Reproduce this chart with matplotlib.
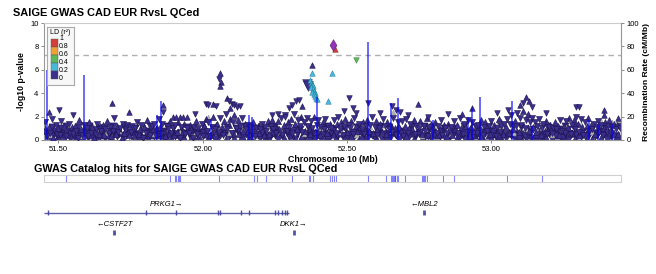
import numpy as np
import matplotlib
matplotlib.use("Agg")
import matplotlib.pyplot as plt
from matplotlib.patches import Rectangle

plt.rcParams['font.family'] = ['Liberation Sans', 'DejaVu Sans']

# ---------------- data ----------------
title = "SAIGE GWAS CAD EUR RvsL QCed"
x_ticks = [51.5, 52.0, 52.5, 53.0]

# bulk of SNPs (r2 < 0.2)
band_x = [
    51.451, 51.455, 51.462, 51.466, 51.471, 51.477, 51.480, 51.486, 51.491, 51.494, 51.499, 51.505, 51.509, 51.516, 51.521, 51.526, 51.530, 51.536, 51.541, 51.547,
    51.552, 51.557, 51.561, 51.568, 51.573, 51.577, 51.583, 51.588, 51.592, 51.598, 51.603, 51.607, 51.613, 51.618, 51.624, 51.629, 51.633, 51.639, 51.644, 51.648,
    51.653, 51.658, 51.662, 51.669, 51.674, 51.679, 51.683, 51.689, 51.693, 51.699, 51.704, 51.708, 51.714, 51.719, 51.723, 51.729, 51.734, 51.738, 51.743, 51.748,
    51.752, 51.756, 51.763, 51.767, 51.772, 51.778, 51.782, 51.787, 51.793, 51.797, 51.802, 51.808, 51.812, 51.817, 51.823, 51.827, 51.833, 51.838, 51.842, 51.847,
    51.851, 51.856, 51.860, 51.866, 51.871, 51.876, 51.881, 51.886, 51.890, 51.896, 51.901, 51.905, 51.911, 51.916, 51.921, 51.925, 51.931, 51.936, 51.940, 51.946,
    51.951, 51.955, 51.961, 51.966, 51.970, 51.976, 51.981, 51.985, 51.991, 51.996, 52.001, 52.005, 52.011, 52.016, 52.020, 52.026, 52.031, 52.035, 52.041, 52.046,
    52.051, 52.055, 52.060, 52.066, 52.071, 52.075, 52.081, 52.086, 52.090, 52.095, 52.101, 52.106, 52.110, 52.116, 52.121, 52.125, 52.131, 52.136, 52.140, 52.146,
    52.151, 52.156, 52.160, 52.165, 52.171, 52.176, 52.180, 52.186, 52.191, 52.195, 52.200, 52.206, 52.211, 52.215, 52.221, 52.226, 52.230, 52.236, 52.241, 52.245,
    52.251, 52.255, 52.261, 52.266, 52.270, 52.276, 52.281, 52.285, 52.291, 52.296, 52.300, 52.306, 52.311, 52.315, 52.321, 52.326, 52.330, 52.336, 52.341, 52.346,
    52.351, 52.356, 52.361, 52.365, 52.371, 52.376, 52.380, 52.386, 52.391, 52.395, 52.401, 52.405, 52.410, 52.416, 52.421, 52.425, 52.431, 52.436, 52.440, 52.446,
    52.452, 52.456, 52.461, 52.466, 52.470, 52.475, 52.481, 52.486, 52.490, 52.495, 52.501, 52.506, 52.510, 52.515, 52.520, 52.526, 52.531, 52.535, 52.541, 52.546,
    52.551, 52.556, 52.560, 52.566, 52.571, 52.575, 52.581, 52.586, 52.590, 52.596, 52.601, 52.605, 52.610, 52.616, 52.620, 52.625, 52.631, 52.636, 52.640, 52.645,
    52.651, 52.656, 52.660, 52.665, 52.671, 52.676, 52.680, 52.686, 52.691, 52.695, 52.701, 52.705, 52.710, 52.716, 52.720, 52.725, 52.731, 52.735, 52.741, 52.746,
    52.751, 52.755, 52.761, 52.766, 52.770, 52.776, 52.781, 52.785, 52.791, 52.796, 52.800, 52.806, 52.811, 52.815, 52.821, 52.826, 52.830, 52.836, 52.841, 52.846,
    52.851, 52.856, 52.860, 52.865, 52.871, 52.876, 52.880, 52.886, 52.891, 52.895, 52.901, 52.906, 52.910, 52.916, 52.920, 52.925, 52.931, 52.935, 52.941, 52.946,
    52.951, 52.956, 52.960, 52.966, 52.971, 52.975, 52.980, 52.986, 52.991, 52.995, 53.001, 53.006, 53.010, 53.015, 53.021, 53.026, 53.030, 53.035, 53.041, 53.046,
    53.051, 53.055, 53.061, 53.066, 53.070, 53.076, 53.081, 53.085, 53.090, 53.096, 53.101, 53.105, 53.111, 53.116, 53.120, 53.126, 53.130, 53.135, 53.141, 53.146,
    53.151, 53.156, 53.160, 53.165, 53.171, 53.176, 53.180, 53.186, 53.191, 53.195, 53.201, 53.205, 53.210, 53.216, 53.220, 53.225, 53.231, 53.235, 53.240, 53.246,
    53.251, 53.255, 53.260, 53.266, 53.271, 53.275, 53.280, 53.286, 53.290, 53.295, 53.301, 53.305, 53.310, 53.316, 53.320, 53.325, 53.331, 53.335, 53.340, 53.346,
    53.351, 53.355, 53.360, 53.366, 53.371, 53.375, 53.380, 53.386, 53.391, 53.395, 53.401, 53.405, 53.410, 53.416, 53.420, 53.425, 53.431, 53.435, 53.440, 53.446,
]
band_y = [
    0.8, 1.5, 0.3, 1.1, 0.6, 1.8, 0.2, 0.9, 1.3, 0.5, 1.0, 0.4, 1.6, 0.7, 1.2, 0.3, 0.9, 1.4, 0.6, 1.1,
    0.5, 1.2, 0.8, 0.2, 1.7, 0.9, 0.4, 1.3, 0.7, 1.0, 0.3, 1.5, 0.6, 1.1, 0.2, 0.9, 1.4, 0.5, 1.2, 0.8,
    1.3, 0.4, 0.9, 1.6, 0.6, 1.1, 0.3, 0.8, 1.9, 0.5, 1.2, 0.7, 1.0, 0.2, 1.4, 0.6, 0.9, 1.3, 0.4, 1.1,
    0.7, 1.2, 0.3, 1.0, 1.5, 0.5, 0.9, 1.3, 0.2, 1.1, 0.6, 1.7, 0.8, 0.4, 1.2, 0.9, 1.4, 0.3, 1.0, 1.8,
    1.1, 0.5, 1.4, 0.8, 0.3, 1.2, 0.9, 1.6, 0.6, 1.0, 0.4, 1.3, 0.7, 1.5, 0.2, 1.1, 0.8, 1.4, 0.5, 1.0,
    0.6, 1.3, 0.9, 0.2, 1.1, 1.6, 0.5, 1.0, 0.7, 1.4, 0.3, 1.2, 1.8, 0.8, 1.5, 0.4, 1.1, 2.0, 0.9, 1.3,
    1.4, 0.7, 1.9, 1.1, 0.4, 1.6, 2.2, 0.9, 1.3, 1.8, 0.6, 1.5, 2.1, 1.0, 1.7, 0.5, 1.2, 1.9, 0.8, 1.4,
    0.9, 1.3, 0.5, 1.1, 0.7, 1.5, 0.3, 1.0, 1.2, 0.6, 0.9, 1.4, 0.4, 1.1, 0.8, 1.6, 0.5, 1.2, 1.7, 0.9,
    1.2, 0.6, 1.6, 0.9, 1.9, 0.4, 1.3, 2.1, 0.8, 1.5, 1.1, 1.8, 0.5, 2.2, 1.4, 0.9, 1.7, 1.2, 2.0, 0.7,
    1.5, 0.8, 1.9, 1.2, 0.5, 1.6, 1.0, 2.0, 0.7, 1.3, 1.7, 0.4, 1.1, 1.5, 0.9, 1.8, 0.6, 1.2, 1.4, 1.0,
    1.1, 1.7, 0.6, 1.4, 2.0, 0.9, 1.5, 0.4, 1.2, 1.8, 0.7, 1.3, 1.0, 1.6, 0.5, 1.9, 1.2, 0.8, 1.4, 1.1,
    0.9, 1.5, 0.5, 1.2, 1.7, 0.8, 1.3, 2.0, 0.6, 1.1, 1.6, 0.4, 1.0, 1.4, 0.7, 1.8, 1.2, 0.5, 1.5, 0.9,
    1.3, 0.7, 1.9, 1.0, 0.4, 1.5, 1.1, 0.8, 1.6, 0.3, 1.2, 1.8, 0.6, 1.0, 1.4, 0.9, 1.7, 0.5, 1.2, 0.8,
    1.0, 1.6, 0.5, 1.2, 0.8, 1.9, 0.3, 1.1, 1.4, 0.7, 1.0, 1.5, 0.6, 1.2, 0.9, 1.7, 0.4, 1.3, 1.0, 0.6,
    1.4, 0.8, 1.1, 0.4, 1.6, 0.9, 1.3, 0.6, 1.9, 1.0, 0.5, 1.4, 1.2, 0.7, 1.7, 0.3, 1.1, 1.5, 0.8, 1.2,
    0.6, 1.3, 1.0, 1.7, 0.4, 1.1, 1.5, 0.8, 1.2, 0.5, 1.6, 0.9, 1.3, 0.3, 1.0, 1.8, 0.7, 1.2, 0.5, 1.4,
    1.1, 1.8, 0.6, 1.4, 2.1, 0.9, 1.6, 1.2, 2.3, 0.7, 1.9, 1.3, 2.5, 1.0, 1.7, 2.2, 0.8, 1.5, 1.9, 1.1,
    1.5, 0.7, 1.2, 1.8, 0.4, 1.0, 1.4, 0.8, 1.6, 0.5, 1.1, 1.3, 0.6, 1.0, 1.5, 0.9, 1.2, 0.4, 1.7, 0.8,
    1.2, 0.6, 1.6, 1.0, 1.9, 0.5, 1.3, 1.7, 0.9, 2.0, 1.4, 0.7, 1.8, 1.1, 0.4, 1.5, 1.2, 1.9, 0.8, 1.3,
    0.9, 1.4, 0.5, 1.1, 1.6, 0.8, 1.3, 0.4, 1.0, 1.5, 0.7, 1.2, 1.7, 0.6, 1.1, 1.4, 0.9, 1.3, 0.5, 1.0,
]
band_dir = (
    "uddudduuddudduududdu" "dudduuddudduduudduud" "uududdudduuddududdud" "ddudduudduduudduddud"
    "udduuddudduduudduudd" "duudduddudduuddududu" "uddududduudduduudduu" "dduddudduuddudduudud"
    "uduudduddududduuddud" "duddudduuddududdudud" "udduddudduuddudduudu" "dudduuddududduudduud"
    "uddudduuddudduduuddu" "duuddudduduudduddudd" "udduduudduddudduudud" "dduuddudduduudduddud"
    "ududduudduddudduuddu" "duddudduuddudduduudd" "udduuddudduddudduudu" "dduddudduuddudduduud"
)
# low -log10 p SNPs at every second bulk position
band_low_y = [
    0.2, 0.5, 0.1, 0.4, 0.7, 0.3, 0.6, 0.1, 0.5, 0.2, 0.4, 0.1, 0.6, 0.3, 0.5, 0.2, 0.7, 0.4, 0.1, 0.3,
    0.6, 0.2, 0.4, 0.1, 0.5, 0.3, 0.7, 0.2, 0.4, 0.6, 0.1, 0.5, 0.3, 0.6, 0.2, 0.4, 0.1, 0.7, 0.3, 0.5,
    0.3, 0.6, 0.1, 0.4, 0.2, 0.7, 0.5, 0.1, 0.3, 0.6, 0.5, 0.2, 0.7, 0.3, 0.1, 0.4, 0.6, 0.2, 0.5, 0.1,
    0.2, 0.4, 0.6, 0.1, 0.3, 0.5, 0.2, 0.7, 0.4, 0.1, 0.6, 0.3, 0.1, 0.5, 0.4, 0.2, 0.6, 0.3, 0.1, 0.7,
    0.4, 0.1, 0.5, 0.2, 0.6, 0.3, 0.4, 0.1, 0.7, 0.2, 0.1, 0.6, 0.3, 0.4, 0.2, 0.5, 0.1, 0.6, 0.3, 0.4,
    0.5, 0.2, 0.4, 0.7, 0.1, 0.3, 0.6, 0.2, 0.5, 0.1, 0.3, 0.5, 0.1, 0.6, 0.4, 0.2, 0.7, 0.1, 0.3, 0.5,
    0.2, 0.7, 0.4, 0.1, 0.5, 0.3, 0.2, 0.6, 0.1, 0.4, 0.6, 0.1, 0.3, 0.5, 0.2, 0.7, 0.4, 0.3, 0.6, 0.2,
    0.1, 0.4, 0.6, 0.2, 0.3, 0.5, 0.1, 0.7, 0.2, 0.4, 0.5, 0.3, 0.1, 0.6, 0.4, 0.2, 0.5, 0.1, 0.3, 0.6,
    0.2, 0.6, 0.4, 0.1, 0.7, 0.3, 0.5, 0.2, 0.4, 0.1, 0.4, 0.1, 0.5, 0.3, 0.2, 0.6, 0.1, 0.4, 0.7, 0.3,
    0.3, 0.5, 0.2, 0.6, 0.1, 0.4, 0.3, 0.7, 0.2, 0.5, 0.1, 0.3, 0.6, 0.2, 0.5, 0.1, 0.4, 0.6, 0.3, 0.2,
]
band_low_dir = (
    "duudduddududduudduud" "uddudduuddudduduuddu" "dudduuddudduduudduud" "udduddudduuddudduudu"
    "dduuddudduduudduddud" "uududdudduuddududdud" "duddudduuddududdudud" "uddududduudduduudduu"
    "dudduuddududduudduud" "udduuddudduddudduudu"
)
# mid-range SNPs at the other bulk positions
band_mid_y = [
    0.9, 0.5, 1.1, 0.7, 0.3, 1.0, 0.6, 1.2, 0.8, 0.4, 0.6, 1.1, 0.3, 0.9, 0.7, 1.2, 0.5, 0.8, 1.0, 0.4,
    1.0, 0.4, 0.8, 1.2, 0.6, 0.9, 0.3, 1.1, 0.7, 0.5, 0.7, 1.0, 0.5, 0.3, 1.1, 0.8, 1.2, 0.4, 0.9, 0.6,
    0.4, 0.8, 1.2, 0.6, 1.0, 0.3, 0.7, 0.9, 0.5, 1.1, 1.1, 0.6, 0.4, 0.9, 0.7, 1.2, 0.5, 0.3, 1.0, 0.8,
    0.5, 0.9, 0.7, 1.1, 0.4, 0.6, 1.0, 0.8, 0.3, 1.2, 0.8, 0.3, 1.0, 0.5, 1.2, 0.7, 0.9, 0.4, 1.1, 0.6,
    1.2, 0.7, 0.5, 1.0, 0.8, 0.4, 1.1, 0.6, 0.9, 0.3, 0.3, 1.1, 0.9, 0.6, 0.5, 1.0, 0.8, 1.2, 0.4, 0.7,
    0.9, 0.4, 0.6, 1.2, 1.0, 0.5, 0.3, 0.7, 1.1, 0.8, 0.6, 1.0, 0.8, 0.4, 0.3, 0.9, 1.2, 0.5, 0.7, 1.1,
    1.0, 0.5, 1.1, 0.8, 0.6, 0.3, 0.9, 1.2, 0.4, 0.7, 0.7, 1.2, 0.4, 0.9, 1.1, 0.6, 0.5, 0.8, 1.0, 0.3,
    0.4, 0.8, 1.0, 0.3, 0.7, 1.2, 0.6, 0.9, 0.5, 1.1, 1.1, 0.3, 0.7, 1.0, 0.9, 0.5, 0.8, 0.4, 1.2, 0.6,
    0.8, 0.6, 1.2, 0.5, 0.4, 1.1, 0.3, 1.0, 0.7, 0.9, 0.5, 1.1, 0.3, 0.7, 1.2, 0.8, 1.0, 0.6, 0.9, 0.4,
    1.2, 0.9, 0.6, 1.1, 0.5, 0.4, 0.7, 0.3, 0.8, 1.0, 0.6, 0.4, 0.9, 0.8, 1.0, 0.7, 1.1, 0.5, 0.3, 1.2,
]
band_mid_dir = (
    "udduddudduuddudduudu" "dudduuddududduudduud" "uddudduuddudduduuddu" "duuddudduduudduddudd"
    "udduduudduddudduudud" "dduuddudduduudduddud" "ududduudduddudduuddu" "duddudduuddudduduudd"
    "udduuddudduddudduudu" "dduddudduuddudduduud"
)

# SNPs without LD information
grey_x = [51.47, 51.53, 51.58, 51.62, 51.66, 51.71, 51.75, 51.79, 51.83, 51.88, 51.92, 51.97, 52.02,
          52.04, 52.09, 52.14, 52.18, 52.22, 52.27, 52.33, 52.35, 52.41, 52.48, 52.53, 52.58, 52.62,
          52.66, 52.71, 52.76, 52.81, 52.86, 52.91, 52.96, 53.00, 53.02, 53.025, 53.03, 53.035, 53.04,
          53.045, 53.05, 53.08, 53.12, 53.17, 53.21, 53.26, 53.31, 53.35, 53.38, 53.42, 53.44]
grey_y = [0.4, 0.9, 0.3, 1.2, 0.6, 0.8, 0.2, 1.0, 0.5, 1.3, 0.7, 0.4, 2.0, 1.1, 0.6, 0.9, 0.3, 1.2,
          0.8, 2.0, 0.5, 1.0, 0.7, 0.4, 1.1, 0.6, 2.4, 0.9, 0.3, 1.2, 0.5, 0.8, 1.0, 1.5, 1.3, 1.7,
          1.1, 1.6, 1.4, 1.2, 1.0, 0.6, 0.9, 1.3, 0.4, 1.1, 1.4, 0.7, 1.6, 1.5, 1.7]

# r2 < 0.2 SNPs standing above the bulk
top_x = [51.469, 51.503, 51.552, 51.684, 51.743, 51.861, 51.863, 51.896, 51.908, 51.920, 51.932, 51.944,
         51.975, 52.010, 52.020, 52.035, 52.045, 52.060, 52.058, 52.062, 52.060, 52.083, 52.090, 52.100,
         52.110, 52.120, 52.130, 52.095, 52.240, 52.260, 52.285, 52.300, 52.310, 52.325, 52.335, 52.345,
         52.378, 52.507, 52.573, 52.490, 52.520, 52.530, 52.615, 52.655, 52.670, 52.685, 52.710, 52.747,
         52.780, 52.850, 52.900, 52.934, 53.020, 53.060, 53.100, 53.110, 53.120, 53.130, 53.140, 53.190,
         53.295, 53.305, 53.390, 53.392, 53.440]
top_y = [2.4, 2.6, 2.15, 3.2, 2.4, 3.0, 2.4, 2.0, 2.0, 2.0, 2.0, 2.0,
         2.2, 3.1, 3.0, 3.1, 2.9, 5.7, 5.2, 5.0, 4.6, 3.6, 3.3, 3.1,
         3.0, 2.8, 2.9, 2.7, 2.1, 2.2, 2.0, 2.7, 3.0, 3.3, 3.4, 2.9,
         6.4, 3.6, 3.2, 2.5, 2.7, 2.3, 2.3, 2.9, 2.6, 2.4, 2.1, 3.1,
         2.0, 2.2, 2.2, 2.7, 2.3, 2.55, 3.0, 3.2, 3.7, 3.3, 2.8, 2.3,
         2.8, 2.8, 2.55, 2.1, 1.9]
top_dir = ("udduuuduuuuu" "dddududuuudd" "dddudddddddu"
           "uddddddddddu" "dduudduduudd" "dduuu")
big_x = [52.360, 52.366]
big_y = [4.8, 4.6]

# LD 0.2-0.4
cyan_x = [52.378, 52.372, 52.375, 52.378, 52.380, 52.383, 52.376, 52.382, 52.385, 52.380, 52.388,
          52.386, 52.390, 52.392, 52.448, 52.434, 52.396]
cyan_y = [5.7, 5.1, 4.9, 4.8, 4.7, 4.6, 4.5, 4.4, 4.2, 4.1, 4.0, 3.9, 3.8, 3.6, 5.7, 3.3, 3.5]
red_x, red_y = [52.460], [7.8]        # LD 0.8-1
green_x, green_y = [52.530], [6.8]    # LD 0.4-0.6
lead_x, lead_y = [52.451], [8.1]      # index SNP

recomb_pos = [51.462, 51.590, 51.840, 51.854, 52.030, 52.160, 52.170, 52.398, 52.573, 52.652,
              52.678, 52.800, 52.918, 52.935, 52.962, 53.072, 53.140, 53.340, 53.370, 53.420]
recomb_rate = [60, 55.5, 21, 33, 17, 21, 20, 37, 84, 32, 36, 17, 20, 27, 37, 33, 12, 17, 14, 14]

ld_labels = ["1", "0.8", "0.6", "0.4", "0.2", "0"]
ld_colors = ["#D43F3A", "#EEA236", "#5CB85C", "#46B8DA", "#3B2E8C"]

catalog_title = "GWAS Catalog hits for SAIGE GWAS CAD EUR RvsL QCed"
catalog_pos = [51.527, 51.888, 51.905, 51.909, 51.913, 51.917, 51.922, 52.057, 52.177, 52.190,
               52.219, 52.308, 52.368, 52.372, 52.381, 52.441, 52.447, 52.456, 52.462, 52.574,
               52.635, 52.653, 52.656, 52.659, 52.662, 52.665, 52.668, 52.672, 52.678, 52.701,
               52.759, 52.763, 52.767, 52.772, 52.777, 52.834, 52.872, 53.054, 53.177]

gene_names = ["PRKG1", "CSTF2T", "DKK1", "MBL2"]
gene_start = [51.450, 51.692, 52.315, 52.766]
gene_end = [52.298, 51.695, 52.318, 52.769]
gene_strand = ["+", "-", "+", "-"]
gene_row = [0, 1, 1, 0]
gene_exons = [
    [51.465, 51.802, 51.906, 52.052, 52.059, 52.132, 52.160, 52.250, 52.262, 52.275, 52.285, 52.292],
    [51.6935], [52.3165], [52.7675],
]

NAVY = ld_colors[-1]
EDGE = "#1a1450"
GREY = "#B5B5B5"
XMIN, XMAX = 51.45, 53.45

W, H = 656, 274
fig = plt.figure(figsize=(W / 100, H / 100), dpi=100)


def fx(px):
    return px / W


def fy(py):
    return 1 - py / H


def draw(ax, xs, ys, dirs, color, size, z, edge=EDGE, lw=0.4):
    xs = np.asarray(xs)
    ys = np.asarray(ys)
    d = np.array(list(dirs))
    for key, m in (("u", "^"), ("d", "v")):
        k = d == key
        ax.scatter(xs[k], ys[k], marker=m, s=size, c=color, edgecolors=edge,
                   linewidths=lw, zorder=z)


# ---------------- association panel ----------------
ax = fig.add_axes([fx(44), fy(140), fx(577), 117 / H])
ax.set_xlim(XMIN, XMAX)
ax.set_ylim(0, 10)
ax.set_yticks([0, 2, 4, 6, 8, 10])
ax.set_xticks(x_ticks)
ax.set_xticklabels([f"{t:.2f}" for t in x_ticks])
ax.tick_params(labelsize=5.5, length=2.5, width=0.6, color="#777777", pad=1.5)
for s in ax.spines.values():
    s.set_color("#CCCCCC")
    s.set_linewidth(0.8)
ax.spines["left"].set_color("#999999")
ax.spines["bottom"].set_color("#999999")

ax2 = ax.twinx()
ax2.set_ylim(0, 100)
ax2.set_yticks([0, 20, 40, 60, 80, 100])
ax2.tick_params(labelsize=5.5, length=2.5, width=0.6, color="#777777", pad=1.5)
for s in ax2.spines.values():
    s.set_visible(False)
ax2.spines["right"].set_visible(True)
ax2.spines["right"].set_color("#999999")
ax2.spines["right"].set_linewidth(0.8)
ax2.set_zorder(ax.get_zorder() + 1)
ax2.patch.set_visible(False)

ax.axhline(7.3, color="#B0B0B0", lw=1, dashes=(4, 3), zorder=1)

draw(ax, band_x[::2], band_low_y, band_low_dir, NAVY, 28, 2)
draw(ax, band_x[1::2], band_mid_y, band_mid_dir, NAVY, 26, 2)
ax.scatter(grey_x, grey_y, marker="^", s=12, c=GREY, edgecolors="#8a8a8a", linewidths=0.3, zorder=3)
draw(ax, band_x, band_y, band_dir, NAVY, 19, 4)
draw(ax, top_x, top_y, top_dir, NAVY, 16, 6)
ax.scatter(big_x, big_y, marker="v", s=50, c=NAVY, edgecolors=EDGE, linewidths=0.3, zorder=6)
ax.scatter(cyan_x, cyan_y, marker="^", s=16, c=ld_colors[3], edgecolors="#1f6f8a", linewidths=0.3, zorder=7)
ax.scatter(red_x, red_y, marker="^", s=16, c=ld_colors[0], edgecolors="#7a1e1a", linewidths=0.3, zorder=7)
ax.scatter(green_x, green_y, marker="v", s=16, c=ld_colors[2], edgecolors="#2e6e2e", linewidths=0.3, zorder=7)
ax.scatter(lead_x, lead_y, marker="d", s=36, c="#9632B8", edgecolors="#4a1860", linewidths=0.3, zorder=8)

ax2.vlines(recomb_pos, 0, recomb_rate, color="#0000FF", lw=1.1, alpha=0.75, zorder=5)

ax.set_ylabel("-log10 p-value", fontsize=6.2, fontweight="bold", labelpad=3)
ax2.set_ylabel("Recombination Rate (cM/Mb)", fontsize=6.1, fontweight="bold", labelpad=3)
ax.set_xlabel("Chromosome 10 (Mb)", fontsize=6.3, fontweight="bold", labelpad=2)
fig.text(fx(13), fy(13), title, ha="left", va="center", fontsize=7.9, fontweight="bold")

# LD legend
lg = fig.add_axes([fx(47), fy(85), fx(27), 58 / H])
lg.set_zorder(ax2.get_zorder() + 1)
lg.set_xlim(0, 27)
lg.set_ylim(58, 0)
lg.set_xticks([])
lg.set_yticks([])
lg.patch.set_facecolor("#F7F7F7")
for s in lg.spines.values():
    s.set_color("#AAAAAA")
    s.set_linewidth(0.8)
lg.text(3, 5, "LD (r²)", fontsize=5, va="center", ha="left")
for i, c in enumerate(ld_colors):
    lg.add_patch(Rectangle((4.5, 12 + 8 * i), 6.5, 8, facecolor=c, edgecolor="#555555", lw=0.3))
for i, lab in enumerate(ld_labels):
    lg.text(12, 12 + 8 * i, lab, fontsize=5, va="center", ha="left")

# ---------------- GWAS catalog track ----------------
fig.text(fx(34), fy(169), catalog_title, ha="left", va="center", fontsize=7.8, fontweight="bold")
cat = fig.add_axes([fx(44), fy(182), fx(577), 7 / H])
cat.set_xlim(XMIN, XMAX)
cat.set_ylim(0, 1)
cat.set_xticks([])
cat.set_yticks([])
for s in cat.spines.values():
    s.set_color("#D0D0D0")
    s.set_linewidth(0.8)
cat.vlines(catalog_pos, 0, 1, color="#3333FF", lw=0.8, alpha=0.6)

# ---------------- gene track ----------------
gt = fig.add_axes([fx(44), fy(245), fx(577), 50 / H])
gt.set_xlim(XMIN, XMAX)
gt.set_ylim(50, 0)
gt.axis("off")
row_feat = [17.5, 37.5]
row_lab = [10, 30]
for name, st, en, strand, row, exons in zip(gene_names, gene_start, gene_end, gene_strand, gene_row, gene_exons):
    yf = row_feat[row]
    gt.hlines(yf, st, en, color="#363696", lw=1.0, alpha=0.8)
    gt.vlines(exons, yf - 2.5, yf + 2.5, color="#363696", lw=1.0 if len(exons) > 1 else 2.0, alpha=0.85)
    label = f"{name}→" if strand == "+" else f"←{name}"
    gt.text((st + en) / 2, row_lab[row], label, fontsize=5.5, style="italic",
            ha="center", va="center")

fig.savefig("out.png", dpi=100)
